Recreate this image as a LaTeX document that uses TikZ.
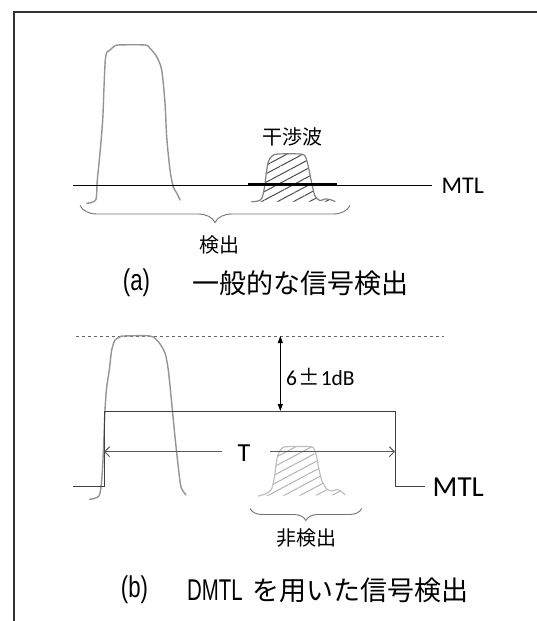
\documentclass[tikz,border=0pt]{standalone}
\usepackage{graphicx}
\usepackage{fontspec}
\setmainfont{Carlito}
\newfontfamily\jpfont{Noto Sans CJK JP}
\newfontfamily\capfont{Liberation Sans}
\usetikzlibrary{arrows.meta,decorations.pathreplacing,patterns.meta}
\tikzset{
 framestyle/.style={draw=black!80,line width=2pt},
 bigpulse/.style={draw=black!42,line width=1.4pt,line join=round,line cap=round},
 intA/.style={draw=black!50,line width=1.2pt,line cap=round},
 intB/.style={draw=black!25,line width=1.2pt,line cap=round},
 hatchA/.style={pattern={Lines[angle=28,distance=7.5pt,line width=1pt]},pattern color=black!70},
 hatchB/.style={pattern={Lines[angle=28,distance=7.5pt,line width=1pt]},pattern color=black!30},
 mtlA/.style={draw=black,line width=1.5pt},
 mtlthick/.style={draw=black,line width=3pt},
 dmtl/.style={draw=black!75,line width=1pt},
 dashedline/.style={draw=black!60,line width=0.7pt,dash pattern=on 3pt off 3pt},
 dimarrow/.style={draw=black,line width=0.9pt,{Triangle[length=7pt,width=5pt]}-{Triangle[length=7pt,width=5pt]}},
 tarrow/.style={draw=black!65,line width=1pt,-{Straight Barb[length=5pt,width=10pt]}},
 bracestyle/.style={draw=black!55,line width=0.9pt,decorate},
 lbl/.style={font=\jpfont\fontsize{20}{22}\selectfont,inner sep=0pt},
 latinA/.style={font=\fontsize{24}{28}\selectfont,inner sep=0pt},
 latinB/.style={font=\fontsize{29}{32}\selectfont,inner sep=0pt},
 tlbl/.style={font=\fontsize{26}{30}\selectfont,inner sep=0pt},
 dimlbl/.style={font=\fontsize{21.5}{26}\selectfont,inner sep=0pt},
 caption/.style={font=\jpfont\fontsize{27}{30}\selectfont,inner sep=0pt},
 captionlatin/.style={font=\capfont\fontsize{30}{33}\selectfont,inner sep=0pt},
}
\begin{document}
\begin{tikzpicture}[x=1pt,y=-1pt]
\useasboundingbox (0,0) rectangle (536,621);
% frame
\coordinate (frTL) at (13.5,11.5);
\coordinate (frTR) at (537,11.5);
\coordinate (frBL) at (13.5,622);
\draw[framestyle] (frTR) -- (frTL) -- (frBL);

% ---------------- panel (a) ----------------
\draw[bigpulse] plot[smooth,tension=0.45] coordinates {(86.7,203.3) (95.7,200) (97.3,180) (100,153) (102.7,120) (104,87) (105.3,60) (107,52) (110,50) (113.3,47) (118.3,45) (145,45) (150,48.3) (156.7,56.7) (161.7,70) (165,103) (166.7,137) (170,170) (173.3,187) (176.7,193) (180,200)};
\fill[hatchA] plot[smooth,tension=0.5] coordinates {(251.7,201.7) (258,201) (262,198) (264.5,187) (266.5,172) (268.3,161.7) (272,156) (278,154) (300,154) (305,156) (308,165) (311.7,183) (315,196) (320,200.5) (325,199) (330,199.5) (335,201.5)} -- cycle;
\draw[intA] plot[smooth,tension=0.5] coordinates {(251.7,201.7) (258,201) (262,198) (264.5,187) (266.5,172) (268.3,161.7) (272,156) (278,154) (300,154) (305,156) (308,165) (311.7,183) (315,196) (320,200.5) (325,199) (330,199.5) (335,201.5)};
\coordinate (mtlA1) at (73.3,185.7);
\coordinate (mtlA2) at (431.7,185.7);
\coordinate (thk1) at (248,184.7);
\coordinate (thk2) at (336.7,184.7);
\draw[mtlA] (mtlA1) -- (mtlA2);
\draw[mtlthick] (thk1) -- (thk2);
\node[latinA,anchor=west] (mtlAlbl) at (441.5,185.7) {MTL};
\node[lbl] (intAlbl) at (292,136.7) {干渉波};
\coordinate (brA1) at (80,205.5);
\coordinate (brA2) at (350,205.5);
\draw[bracestyle,decoration={brace,mirror,amplitude=17pt}] (brA1) -- (brA2);
\node[lbl] (detA) at (219,245) {検出};
\node[captionlatin] (capA1) at (136.5,283) {\scalebox{0.74}[1]{(a)}};
\node[caption] (capA2) at (300.5,283) {一般的な信号検出};

% ---------------- panel (b) ----------------
\coordinate (dashL) at (76,336);
\coordinate (dashR) at (444.4,336);
\draw[dashedline] (dashL) -- (dashR);
\draw[bigpulse] plot[smooth,tension=0.45] coordinates {(89.6,499.3) (99,496) (101.7,480) (103.3,453) (105,410) (106.7,387) (109.3,370) (111.7,350) (115,340) (120,337) (123.3,336) (150,336) (158.3,341.7) (165,353) (168.3,370) (171.7,403) (175,437) (178.3,467) (181,487) (186,495)};
\fill[hatchB] plot[smooth,tension=0.5] coordinates {(258.3,496) (265,494) (271,490) (274,480) (276,465) (278,455) (281.7,448.5) (287,446.7) (310,446.7) (314,449) (316.5,456) (318.5,467) (321.7,480) (326.7,489) (332,491) (337,489.5) (342,492) (345,495)} -- cycle;
\draw[intB] plot[smooth,tension=0.5] coordinates {(258.3,496) (265,494) (271,490) (274,480) (276,465) (278,455) (281.7,448.5) (287,446.7) (310,446.7) (314,449) (316.5,456) (318.5,467) (321.7,480) (326.7,489) (332,491) (337,489.5) (342,492) (345,495)};
\coordinate (stubL) at (73.3,486);
\coordinate (rectBL) at (104,486);
\coordinate (rectTL) at (104,411);
\coordinate (rectTR) at (395,411);
\coordinate (rectBR) at (395,486);
\coordinate (stubR) at (425,486);
\draw[dmtl] (stubL) -- (rectBL) -- (rectTL) -- (rectTR) -- (rectBR) -- (stubR);
\node[latinB,anchor=west] (mtlBlbl) at (432.5,487.5) {MTL};
\coordinate (gapTop) at (280.3,336);
\coordinate (gapBot) at (280.3,411);
\draw[dimarrow] (gapTop) -- (gapBot);
\node[dimlbl,anchor=west] (gaplbl) at (286,377) {6\makebox[1.1em]{\jpfont ±}1dB};
\node[tlbl] (Tlbl) at (244,453) {T};
\coordinate (Tgl) at (221.7,451.7);
\coordinate (Tgr) at (270,451.7);
\coordinate (TL) at (104,451.7);
\coordinate (TR) at (395,451.7);
\draw[tarrow] (Tgl) -- (TL);
\draw[tarrow] (Tgr) -- (TR);
\coordinate (brB1) at (250,508.5);
\coordinate (brB2) at (361.7,508.5);
\draw[bracestyle,decoration={brace,mirror,amplitude=12pt}] (brB1) -- (brB2);
\node[lbl] (detB) at (306,538.3) {非検出};
\node[captionlatin] (capB1) at (134.5,590) {\scalebox{0.74}[1]{(b)}};
\node[captionlatin] (capB2) at (215,590) {\scalebox{0.68}[1]{DMTL}};
\node[caption] (capB3) at (360.5,590) {を用いた信号検出};
\end{tikzpicture}
\end{document}
